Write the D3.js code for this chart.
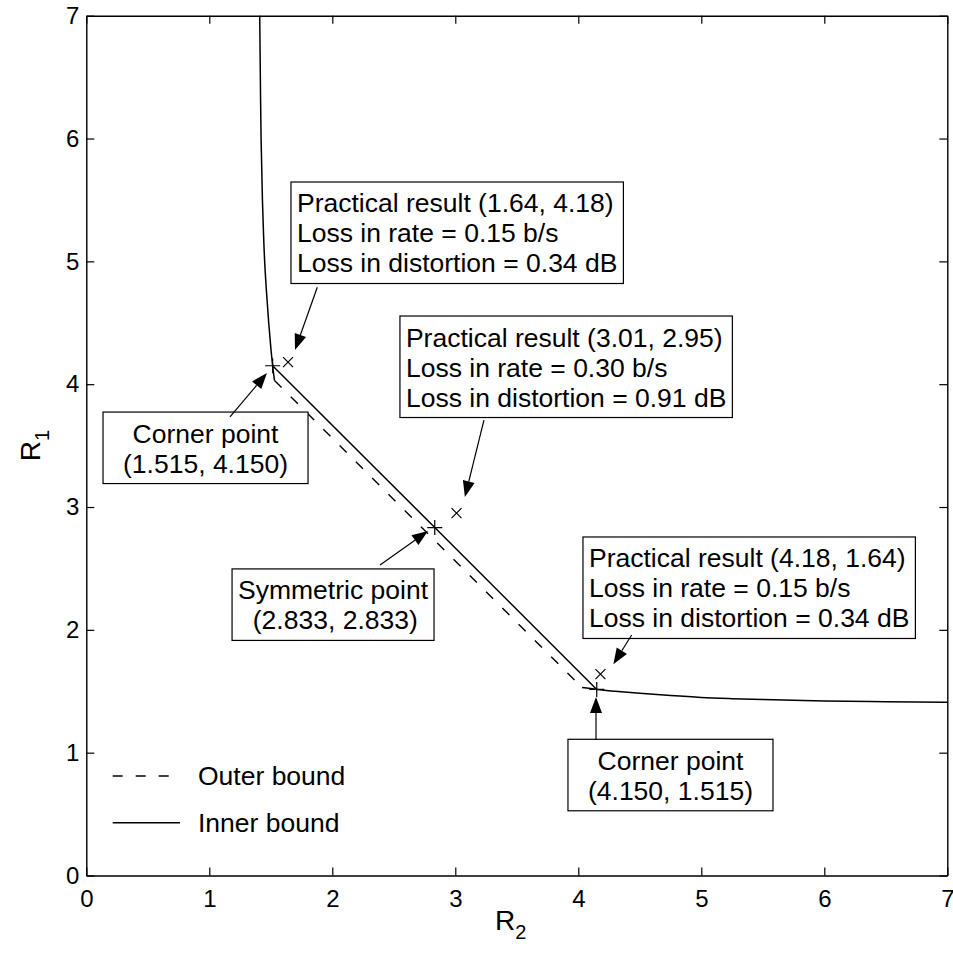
<!DOCTYPE html>
<html>
<head>
<meta charset="utf-8">
<script src="https://cdn.jsdelivr.net/npm/d3@7"></script>
<style>
  html, body { margin: 0; padding: 0; background: #fff; }
  svg { display: block; }
  text { font-family: "Liberation Sans", Arial, Helvetica, sans-serif; fill: #000; }
</style>
</head>
<body>
<svg id="chart" width="953" height="956"></svg>
<script>
// ---------------- DATA ----------------
const xTicks = [0, 1, 2, 3, 4, 5, 6, 7];
const yTicks = [0, 1, 2, 3, 4, 5, 6, 7];

// Inner bound, upper branch (R2, R1)
const innerUpperR2 = [1.410, 1.415, 1.421, 1.432, 1.440, 1.450, 1.465, 1.483, 1.500, 1.515, 1.530];
const innerUpperR1 = [7.000, 6.500, 6.000, 5.500, 5.250, 5.000, 4.750, 4.500, 4.300, 4.150, 4.030];
// Inner bound, straight middle segment (R2, R1)
const innerMidR2 = [1.515, 2.833, 4.150];
const innerMidR1 = [4.150, 2.833, 1.515];
// Inner bound, lower branch (R2, R1)
const innerLowerR2 = [4.030, 4.150, 4.300, 4.500, 4.750, 5.000, 5.250, 5.500, 6.000, 6.500, 7.000];
const innerLowerR1 = [1.530, 1.515, 1.500, 1.483, 1.465, 1.450, 1.440, 1.432, 1.421, 1.415, 1.410];
// Outer bound (R2, R1)
const outerR2 = [1.530, 4.030];
const outerR1 = [4.030, 1.530];

// Corner / symmetric points (plus markers)
const keyPointR2 = [1.515, 2.833, 4.150];
const keyPointR1 = [4.150, 2.833, 1.515];
// Practical results (x markers)
const practicalR2 = [1.64, 3.01, 4.18];
const practicalR1 = [4.18, 2.95, 1.64];

const legendLabels = ["Outer bound", "Inner bound"];

const annotationTexts = [
  ["Practical result (1.64, 4.18)", "Loss in rate = 0.15 b/s", "Loss in distortion = 0.34 dB"],
  ["Practical result (3.01, 2.95)", "Loss in rate = 0.30 b/s", "Loss in distortion = 0.91 dB"],
  ["Practical result (4.18, 1.64)", "Loss in rate = 0.15 b/s", "Loss in distortion = 0.34 dB"],
  ["Corner point", "(1.515, 4.150)"],
  ["Symmetric point", "  (2.833, 2.833)"],
  ["Corner point", "(4.150, 1.515)"]
];

// ---------------- LAYOUT (data-space anchors for annotations) ----------------
// box: top-left corner in data units; arrow: tail -> tip in data units
const annotationLayout = [
  { box: [1.664, 5.646], align: "left",   arrow: [[1.878, 4.789], [1.697, 4.278]] },
  { box: [2.550, 4.555], align: "left",   arrow: [[3.233, 3.708], [3.078, 3.081]] },
  { box: [4.038, 2.756], align: "left",   arrow: [[4.434, 1.958], [4.285, 1.719]] },
  { box: [0.136, 3.773], align: "center", arrow: [[1.168, 3.733], [1.469, 4.091]] },
  { box: [1.185, 2.496], align: "left",   arrow: [[2.388, 2.528], [2.778, 2.805]] },
  { box: [3.916, 1.109], align: "center", arrow: [[4.144, 1.103], [4.144, 1.453]] }
];

// ---------------- CHART ----------------
const W = 953, H = 956;
const margin = { left: 86.3, right: 5.7, top: 15.7, bottom: 80.5 };
const iw = W - margin.left - margin.right;
const ih = H - margin.top - margin.bottom;

const svg = d3.select("#chart");
const g = svg.append("g").attr("transform", `translate(${margin.left},${margin.top})`);

const x = d3.scaleLinear().domain([0, 7]).range([0, iw]);
const y = d3.scaleLinear().domain([0, 7]).range([ih, 0]);

const tickFont = 24;
const axisStroke = 1.4;

function styleAxis(sel) {
  sel.select(".domain").attr("stroke", "#000").attr("stroke-width", axisStroke);
  sel.selectAll(".tick line").attr("stroke", "#000").attr("stroke-width", 1.2);
  sel.selectAll(".tick text").attr("font-size", tickFont)
     .attr("font-family", '"Liberation Sans", Arial, Helvetica, sans-serif').attr("fill", "#000");
}

g.append("g").attr("transform", `translate(0,${ih})`)
  .call(d3.axisBottom(x).tickValues(xTicks).tickFormat(d3.format("d")).tickSize(-8).tickSizeOuter(0).tickPadding(14))
  .call(styleAxis);
g.append("g")
  .call(d3.axisLeft(y).tickValues(yTicks).tickFormat(d3.format("d")).tickSize(-8).tickSizeOuter(0).tickPadding(7))
  .call(styleAxis);
g.append("g")
  .call(d3.axisTop(x).tickValues(xTicks).tickFormat("").tickSize(-8).tickSizeOuter(0))
  .call(styleAxis);
g.append("g").attr("transform", `translate(${iw},0)`)
  .call(d3.axisRight(y).tickValues(yTicks).tickFormat("").tickSize(-8).tickSizeOuter(0))
  .call(styleAxis);

// Axis labels
const xl = svg.append("text").attr("x", margin.left + x(3.45)).attr("y", 930)
  .attr("font-size", 28).attr("text-anchor", "middle");
xl.append("tspan").text("R");
xl.append("tspan").attr("font-size", 20).attr("dy", 9).text("2");

const yl = svg.append("text")
  .attr("transform", `translate(40,${margin.top + y(3.5)}) rotate(-90)`)
  .attr("font-size", 28).attr("text-anchor", "middle");
yl.append("tspan").text("R");
yl.append("tspan").attr("font-size", 20).attr("dy", 9).text("1");

// Curves
const zip = (a, b) => a.map((v, i) => [v, b[i]]);
const lineLin = d3.line().x(d => x(d[0])).y(d => y(d[1]));
const lineMX = d3.line().x(d => x(d[0])).y(d => y(d[1])).curve(d3.curveMonotoneX);
const lineMY = d3.line().x(d => x(d[0])).y(d => y(d[1])).curve(d3.curveMonotoneY);

const plot = g.append("g");
plot.append("path").datum(zip(outerR2, outerR1)).attr("d", lineLin)
  .attr("fill", "none").attr("stroke", "#000").attr("stroke-width", 1.4).attr("stroke-dasharray", "10,13");
const innerStyle = p => p.attr("fill", "none").attr("stroke", "#000").attr("stroke-width", 1.5).attr("stroke-linejoin", "round");
plot.append("path").datum(zip(innerUpperR2, innerUpperR1)).attr("d", lineMY).call(innerStyle);
plot.append("path").datum(zip(innerMidR2, innerMidR1)).attr("d", lineLin).call(innerStyle);
plot.append("path").datum(zip(innerLowerR2, innerLowerR1)).attr("d", lineMX).call(innerStyle);

// Plus markers
const ps = 7.5;
zip(keyPointR2, keyPointR1).forEach(([a, b]) => {
  plot.append("path")
    .attr("d", `M${x(a) - ps},${y(b)}H${x(a) + ps}M${x(a)},${y(b) - ps}V${y(b) + ps}`)
    .attr("stroke", "#000").attr("stroke-width", 1.2).attr("fill", "none");
});
// X markers
const xs = 5;
zip(practicalR2, practicalR1).forEach(([a, b]) => {
  plot.append("path")
    .attr("d", `M${x(a) - xs},${y(b) - xs}L${x(a) + xs},${y(b) + xs}M${x(a) - xs},${y(b) + xs}L${x(a) + xs},${y(b) - xs}`)
    .attr("stroke", "#000").attr("stroke-width", 1.2).attr("fill", "none");
});

// Annotations
const annFont = 26.5, lineGap = 30, padX = 6, padC = 20;
annotationTexts.forEach((lines, i) => {
  const L = annotationLayout[i];
  const bx = x(L.box[0]), by = y(L.box[1]);
  const grp = g.append("g");
  const rect = grp.append("rect").attr("fill", "#fff").attr("stroke", "#000").attr("stroke-width", 1.2);
  const texts = lines.map((t, k) => grp.append("text")
    .attr("font-size", annFont).attr("y", by + 30.5 + k * lineGap)
    .attr("xml:space", "preserve").style("white-space", "pre").text(t));
  const maxW = d3.max(texts, t => t.node().getComputedTextLength());
  const bw = maxW + 2 * (L.align === "center" ? padC : padX);
  const bh = 30.5 + (lines.length - 1) * lineGap + 11;
  rect.attr("x", bx).attr("y", by).attr("width", bw).attr("height", bh);
  texts.forEach(t => {
    if (L.align === "center") t.attr("x", bx + bw / 2).attr("text-anchor", "middle");
    else t.attr("x", bx + padX);
  });
  // arrow
  const [p0, p1] = L.arrow;
  const x0 = x(p0[0]), y0 = y(p0[1]), x1 = x(p1[0]), y1 = y(p1[1]);
  const ang = Math.atan2(y1 - y0, x1 - x0);
  const hl = 16, hw = 6;
  const bxh = x1 - hl * Math.cos(ang), byh = y1 - hl * Math.sin(ang);
  g.append("line").attr("x1", x0).attr("y1", y0).attr("x2", bxh).attr("y2", byh)
    .attr("stroke", "#000").attr("stroke-width", 1.2);
  g.append("path")
    .attr("d", `M${x1},${y1}L${bxh + hw * Math.sin(ang)},${byh - hw * Math.cos(ang)}L${bxh - hw * Math.sin(ang)},${byh + hw * Math.cos(ang)}Z`)
    .attr("fill", "#000");
});

// Legend
const legX0 = 112.7 - margin.left, legX1 = 180 - margin.left;
const legY = [776 - margin.top, 822.7 - margin.top];
const leg = g.append("g");
legendLabels.forEach((lab, i) => {
  leg.append("line").attr("x1", legX0).attr("x2", legX1).attr("y1", legY[i]).attr("y2", legY[i])
    .attr("stroke", "#000").attr("stroke-width", 1.4)
    .attr("stroke-dasharray", i === 0 ? "10,13" : null);
  leg.append("text").attr("x", 198 - margin.left).attr("y", legY[i] + 9.5)
    .attr("font-size", annFont).text(lab);
});
</script>
</body>
</html>
